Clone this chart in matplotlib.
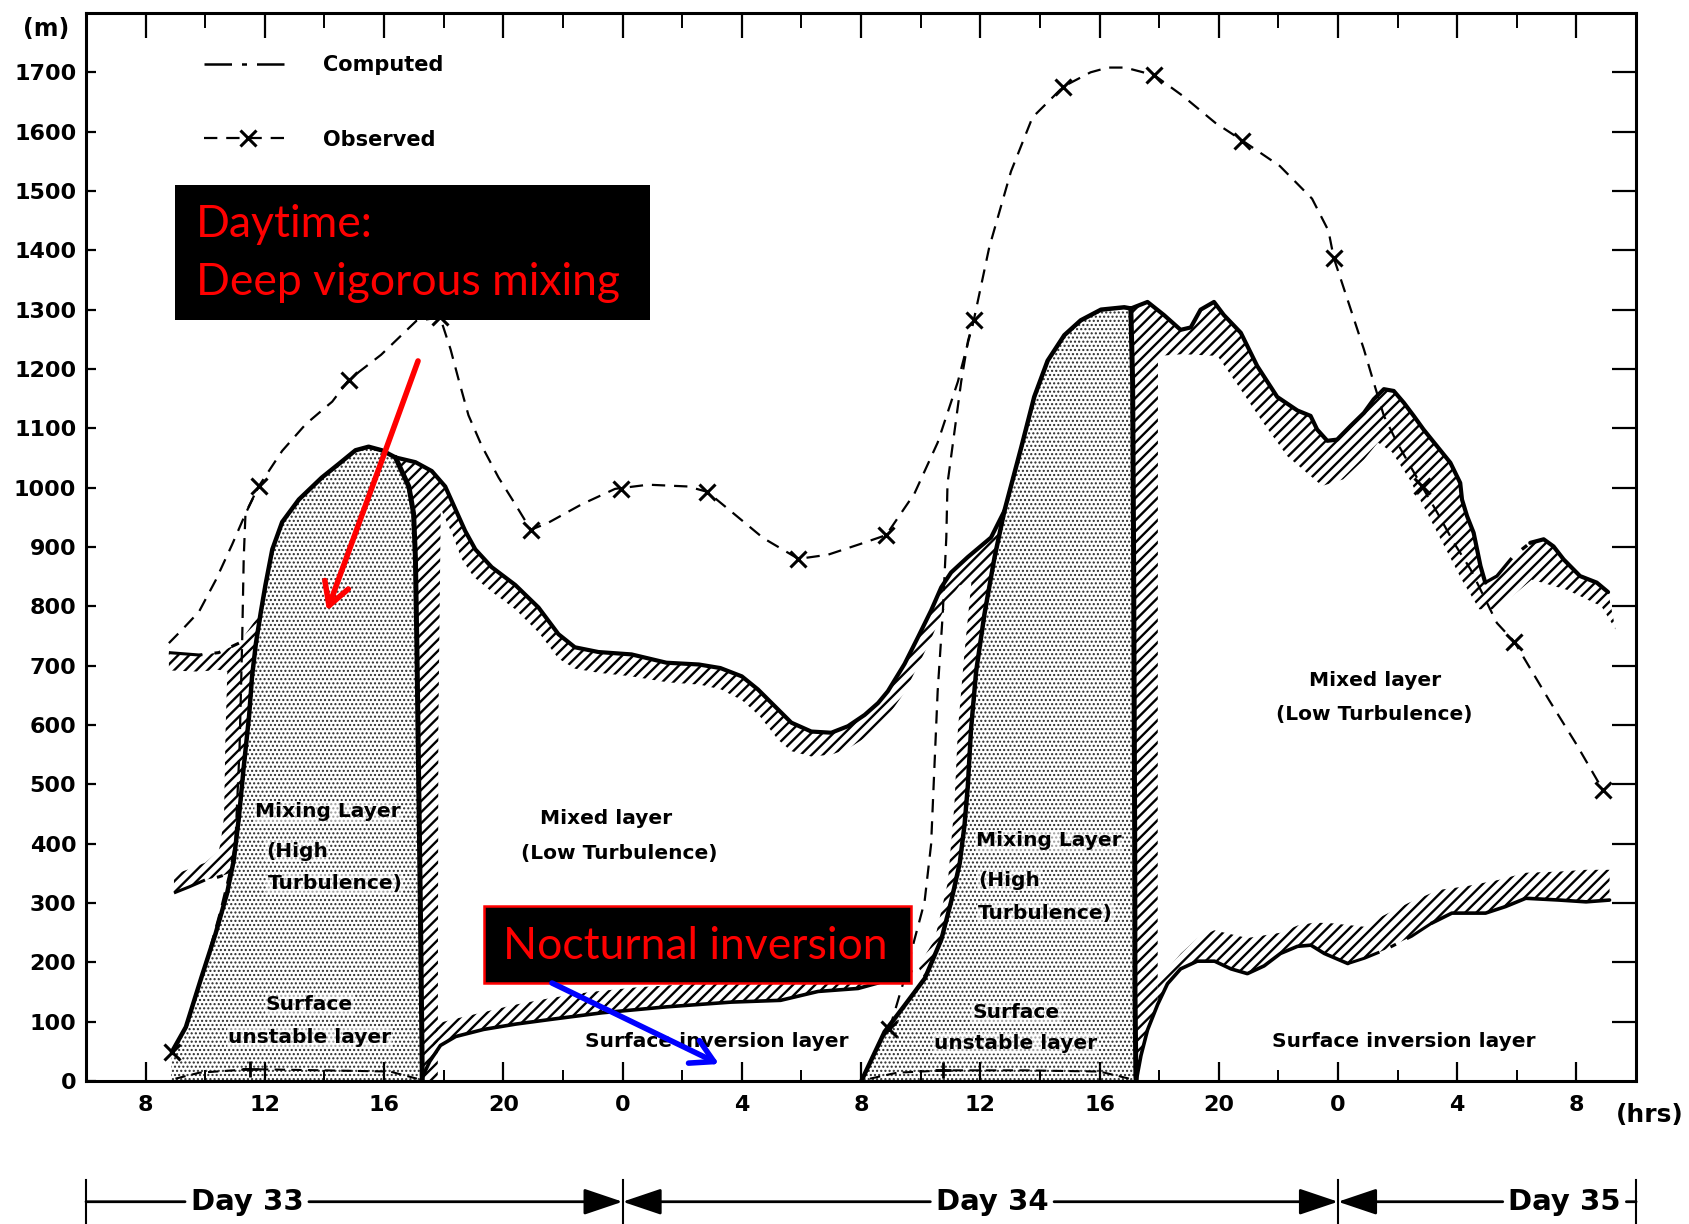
import numpy as np
import matplotlib.pyplot as plt
from matplotlib.lines import Line2D
from matplotlib.patches import Rectangle

plt.rcParams['font.family'] = ['DejaVu Sans']
plt.rcParams['font.weight'] = 'bold'
plt.rcParams['hatch.linewidth'] = 1.7

# time axis: hours counted from 00h of Day 33
hour_ticks = [8, 12, 16, 20, 24, 28, 32, 36, 40, 44, 48, 52, 56]
hour_labels = ['8', '12', '16', '20', '0', '4', '8', '12', '16', '20', '0', '4', '8']
height_ticks = list(range(0, 1800, 100))

day_names = ['Day 33', 'Day 34', 'Day 35']
day_edges = [6, 24, 48, 58]
day_label_t = [11.4, 36.4, 55.6]

# observed mixed-layer top (dashed) and the 3-hourly soundings (x)
obs_line_t = [8.78, 9.23, 9.79, 10.35, 10.9, 11.35, 11.79, 12.58, 13.37, 14.26, 14.82, 15.9, 17.08,
              17.88, 18.23, 18.5, 18.83, 19.28, 19.84, 20.4, 20.92, 21.51, 22.63, 23.75, 24.86, 26.19,
              26.84, 27.64, 28.72, 29.9, 30.89, 31.97, 32.84, 33.79, 34.57, 35.25, 35.78, 36.3, 37.03,
              37.75, 38.79, 39.7, 40.28, 40.86, 41.84, 42.8, 43.88, 44.79, 46.05, 47.13, 47.68, 47.86,
              48.87, 49.2, 49.54, 49.98, 50.43, 50.82, 51.33, 51.89, 52.45, 52.89, 53.33, 53.92, 55.08,
              55.98, 56.88]
obs_line_z = [738, 761, 791, 844, 904, 956, 1002, 1062, 1107, 1145, 1182, 1224, 1281,
              1287, 1233, 1182, 1122, 1070, 1017, 972, 929, 941, 972, 998, 1005, 1002,
              993, 960, 915, 880, 887, 905, 920, 990, 1076, 1179, 1282, 1405, 1533,
              1624, 1676, 1700, 1708, 1708, 1695, 1660, 1615, 1585, 1542, 1487, 1433, 1387,
              1233, 1177, 1121, 1076, 1036, 1002, 958, 907, 862, 817, 772, 740, 642,
              569, 491]
obs_am1_t = [8.88, 9.35, 9.88, 10.18, 10.52, 10.79, 11.01, 11.15, 11.24, 11.29, 11.35, 11.79]
obs_am1_z = [49, 91, 176, 227, 289, 345, 401, 560, 746, 881, 957, 1002]
obs_am2_t = [32.95, 33.46, 33.79, 34.13, 34.35, 34.46, 34.57, 34.74, 34.8, 34.86, 34.9, 35.13,
             35.36, 35.59, 35.78]
obs_am2_z = [87, 173, 238, 302, 399, 528, 657, 787, 851, 916, 1007, 1093, 1179, 1248, 1282]
obs_mark_t = [8.88, 11.79, 14.82, 17.88, 20.92, 23.96, 26.84, 29.9, 32.84, 32.95, 35.78, 38.79,
              41.84, 44.79, 47.86, 50.82, 53.92, 56.88]
obs_mark_z = [49, 1002, 1182, 1287, 929, 998, 993, 880, 920, 87, 1282, 1676,
              1695, 1585, 1387, 1002, 740, 491]

# Day 33 mixing layer
ml1_left_t = [8.85, 8.88, 9.35, 9.88, 10.35, 10.73, 10.96, 11.13, 11.29, 11.47, 11.57, 11.70, 11.86,
              12.02, 12.25, 12.58, 13.14, 13.91, 14.48, 15.04, 15.48, 15.92, 16.38]
ml1_left_z = [0, 49, 91, 176, 249, 316, 373, 445, 529, 615, 682, 738, 789,
              836, 896, 942, 980, 1017, 1040, 1063, 1069, 1063, 1051]
ml1_right_t = [16.38, 16.83, 16.99, 17.05, 17.10, 17.16, 17.22, 17.27, 17.28]
ml1_right_z = [1051, 1002, 956, 882, 731, 505, 278, 53, 0]

# morning of Day 33: remains of the previous night's layers
am_top_t = [8.78, 9.79, 10.45, 11.13]
am_top_z = [722, 718, 722, 738]
am_low_t = [8.95, 9.45, 10.0, 10.45, 10.85]
am_low_z = [317, 327, 339, 344, 351]
am_edge_t = [8.95, 9.5, 10.0, 10.45, 10.51, 10.63, 10.68, 10.74, 10.45, 9.79, 8.78]
am_edge_z = [348, 358, 368, 388, 400, 445, 587, 690, 693, 690, 692]

# first night: top of mixed layer and inner edge of its capping zone
top1_t = [16.38, 17.05, 17.60, 18.05, 18.39, 18.72, 19.06, 19.61, 20.40, 21.18, 21.85, 22.40, 23.19,
          24.30, 25.47, 26.56, 27.28, 28.0, 28.54, 29.22, 29.66, 30.33, 31.0, 31.56, 32.12, 32.57,
          32.9, 33.46, 33.91, 34.35, 34.69, 35.02, 35.58, 36.36, 36.81]
top1_z = [1051, 1043, 1028, 1002, 964, 927, 896, 866, 836, 798, 753, 731, 723,
          719, 705, 702, 696, 682, 660, 626, 604, 589, 587, 598, 617, 637,
          657, 703, 748, 793, 832, 857, 883, 916, 961]
band1_t = [33.91, 34.47, 34.91, 35.13, 35.25, 35.47, 35.7, 35.3, 35.02, 34.69, 34.35, 33.91, 33.46,
           32.9, 32.57, 32.12, 31.56, 31.0, 30.33, 29.66, 29.22, 28.6, 28.0, 27.3, 26.6, 25.5, 24.3,
           23.2, 22.4, 21.85, 21.2, 20.4, 19.6, 19.0, 18.6, 18.3, 17.9, 17.82, 17.8]
band1_z = [193, 238, 335, 464, 593, 722, 840, 835, 815, 785, 745, 700, 655,
           615, 596, 578, 560, 550, 547, 556, 575, 615, 642, 660, 668, 672, 682,
           688, 695, 712, 755, 795, 825, 850, 880, 920, 965, 600, 0]

# first night: surface inversion
inv1_t = [17.24, 17.53, 17.89, 18.40, 19.34, 20.42, 21.61, 23.31, 25.47, 27.64, 29.30, 30.56, 31.90,
          32.55, 33.13, 33.67]
inv1_z = [2, 33, 60, 75, 87, 96, 104, 115, 125, 133, 136, 151, 156, 165, 175, 185]
inv1_top_t = [17.77, 18.4, 19.5, 20.33, 21.6, 22.9, 24.5, 26.74, 28.5, 30.59, 31.9, 32.6, 33.67]
inv1_top_z = [97, 105, 118, 128, 140, 150, 158, 165, 170, 180, 186, 192, 200]

# Day 34 mixing layer
ml2_left_t = [32.01, 32.79, 33.47, 34.14, 34.69, 35.02, 35.31, 35.47, 35.58, 35.69, 35.86, 36.14, 36.48,
              36.81, 37.37, 37.81, 38.26, 38.82, 39.37, 40.05, 40.83, 41.05]
ml2_left_z = [0, 83, 128, 173, 238, 302, 367, 431, 496, 593, 690, 787, 883,
              961, 1067, 1153, 1214, 1257, 1282, 1300, 1304, 1302]
ml2_right_t = [41.05, 41.11, 41.14, 41.16, 41.18, 41.19, 41.22, 41.23]
ml2_right_z = [1302, 1179, 921, 663, 405, 146, 9, 0]

# second night: top of mixed layer and inner edge of its capping zone
top2_t = [41.05, 41.61, 42.16, 42.72, 43.06, 43.39, 43.84, 44.17, 44.74, 45.29, 45.96, 46.64, 47.08,
          47.30, 47.64, 47.97, 48.42, 48.87, 49.20, 49.54, 49.87, 50.21, 50.54, 50.87, 51.32, 51.77,
          52.10, 52.16, 52.33, 52.55, 52.78, 52.94, 53.33, 53.89, 54.45, 54.90, 55.23, 55.57, 56.12,
          56.68, 57.06]
top2_z = [1302, 1313, 1291, 1266, 1270, 1300, 1313, 1291, 1261, 1205, 1153, 1130, 1121,
          1098, 1079, 1081, 1104, 1126, 1149, 1166, 1163, 1143, 1121, 1098, 1070, 1042,
          1008, 980, 952, 924, 868, 840, 851, 885, 907, 913, 901, 879, 851,
          840, 824]
top2_in_t = [41.96, 42.79, 43.96, 44.66, 45.48, 46.3, 47.47, 48.17, 48.88, 49.34, 49.81, 50.4, 50.98,
             51.57, 52.15, 52.74, 53.33, 54.5, 55.67, 56.84, 57.31]
top2_in_z = [1222, 1225, 1222, 1171, 1110, 1053, 1003, 1014, 1048, 1076, 1060, 1014, 958,
             901, 845, 795, 795, 845, 828, 800, 761]

# second night: surface inversion
inv2_t = [41.23, 41.39, 41.61, 41.95, 42.28, 42.72, 43.28, 43.86, 44.41, 44.96, 45.52, 46.07, 46.64,
          47.09, 47.54, 48.33, 48.89, 49.57, 50.47, 51.14, 51.82, 52.95, 53.62, 54.3, 55.42, 56.32,
          57.11]
inv2_z = [0, 43, 86, 129, 164, 189, 202, 202, 189, 181, 194, 215, 227,
          229, 215, 198, 207, 221, 244, 266, 283, 283, 294, 308, 305, 302, 305]
inv2_top_t = [41.95, 42.73, 43.29, 43.85, 44.96, 46.08, 46.64, 47.2, 47.76, 48.89, 49.45, 50.36, 51.37,
              52.27, 53.39, 54.29, 55.42, 56.32, 57.11]
inv2_top_z = [170, 215, 241, 254, 241, 250, 262, 267, 266, 260, 277, 300, 322,
              328, 339, 351, 353, 356, 356]

# top of the surface unstable layer
sul1_t = [9.0, 9.8, 11.5, 14.0, 16.2, 17.1]
sul1_z = [4, 14, 20, 18, 16, 4]
sul2_t = [32.3, 33.2, 34.8, 37.5, 40.0, 41.0]
sul2_z = [4, 14, 18, 18, 16, 4]
sul_mark_t = [11.5, 34.75]
sul_mark_z = [20, 18]

dashdot = (0, (11, 4, 2, 4))
dashed = (0, (6, 4))

fig = plt.figure(figsize=(16.9, 12.24), dpi=100)
ax = fig.add_axes([0.0509, 0.1168, 0.9172, 0.8726])
ax.set_xlim(6, 58)
ax.set_ylim(0, 1800)


def cat(*parts):
    return np.concatenate([np.asarray(p, dtype=float) for p in parts])


def hatch_fill(t, z):
    ax.fill(t, z, facecolor='none', edgecolor='black', hatch='///', linewidth=0, zorder=1)


def stipple_fill(t, z):
    with plt.rc_context({'hatch.linewidth': 1.0}):
        for p in ax.fill(t, z, facecolor='white', edgecolor='#2a2a2a', hatch='....',
                         linewidth=0, zorder=1):
            if hasattr(p, 'set_hatch_linewidth'):
                p.set_hatch_linewidth(1.0)


ml1_lt, ml1_lz = np.array(ml1_left_t), np.array(ml1_left_z)
ml2_lt, ml2_lz = np.array(ml2_left_t), np.array(ml2_left_z)

# stippled mixing layers
stipple_fill(cat(ml1_left_t, ml1_right_t[1:]), cat(ml1_left_z, ml1_right_z[1:]))
stipple_fill(cat(ml2_left_t, ml2_right_t[1:]), cat(ml2_left_z, ml2_right_z[1:]))

# hatched transition zones
sel = (ml1_lz > 340) & (ml1_lz < 800)
hatch_fill(cat(am_top_t, ml1_lt[sel][::-1], am_low_t[::-1], am_edge_t),
           cat(am_top_z, ml1_lz[sel][::-1], am_low_z[::-1], am_edge_z))

sel = (ml2_lz >= 170) & (ml2_lz <= 961)
hatch_fill(cat(ml1_right_t[::-1], top1_t[1:], ml2_lt[sel][::-1], band1_t),
           cat(ml1_right_z[::-1], top1_z[1:], ml2_lz[sel][::-1], band1_z))
hatch_fill(cat(inv1_t[1:], inv1_top_t[::-1]), cat(inv1_z[1:], inv1_top_z[::-1]))

hatch_fill(cat(ml2_right_t, inv2_t[1:4], top2_in_t, top2_t[::-1]),
           cat(ml2_right_z, inv2_z[1:4], top2_in_z, top2_z[::-1]))
hatch_fill(cat(inv2_t[3:], inv2_top_t[::-1]), cat(inv2_z[3:], inv2_top_z[::-1]))

# boundary lines
solid = dict(color='black', solid_capstyle='round', solid_joinstyle='round', zorder=3)
ax.plot(ml1_left_t[1:], ml1_left_z[1:], lw=3.2, **solid)
ax.plot(ml1_right_t, ml1_right_z, lw=3.6, **solid)
ax.plot(top1_t, top1_z, lw=3.0, **solid)
ax.plot(ml2_left_t, ml2_left_z, lw=3.2, **solid)
ax.plot(ml2_right_t, ml2_right_z, lw=3.6, **solid)
ax.plot(top2_t[:32], top2_z[:32], lw=3.0, **solid)
ax.plot(top2_t[34:], top2_z[34:], lw=3.0, **solid)
ax.plot(top2_t[31:35], top2_z[31:35], lw=2.4, ls=dashdot, color='black', zorder=3)
ax.plot(inv1_t, inv1_z, lw=2.6, **solid)
ax.plot(inv2_t[:16], inv2_z[:16], lw=2.6, **solid)
ax.plot(inv2_t[19:], inv2_z[19:], lw=2.6, **solid)
ax.plot(inv2_t[15:20], inv2_z[15:20], lw=2.2, ls=dashdot, color='black', zorder=3)
ax.plot(am_top_t, am_top_z, lw=2.2, ls=dashdot, color='black', zorder=3)
ax.plot(am_low_t, am_low_z, lw=2.2, ls=dashdot, color='black', zorder=3)

ax.plot(sul1_t, sul1_z, lw=1.5, ls=(0, (5, 3)), color='black', zorder=3)
ax.plot(sul2_t, sul2_z, lw=1.5, ls=(0, (5, 3)), color='black', zorder=3)
ax.plot(sul_mark_t, sul_mark_z, ls='none', marker='+', ms=11, mew=2, color='black', zorder=3)

# observations
ax.plot(obs_line_t, obs_line_z, ls=dashed, lw=1.6, color='black', zorder=4)
ax.plot(obs_am1_t, obs_am1_z, ls=dashed, lw=1.6, color='black', zorder=4)
ax.plot(obs_am2_t, obs_am2_z, ls=dashed, lw=1.6, color='black', zorder=4)
ax.plot(obs_mark_t, obs_mark_z, ls='none', marker='x', ms=12, mew=2.2, color='black', zorder=4)

# region labels
lab = dict(fontsize=14.5, fontweight='bold', zorder=5)
soft = dict(boxstyle='square,pad=0.05', facecolor='white', edgecolor='none', alpha=0.55)
ax.text(14.1, 455, 'Mixing Layer', ha='center', va='center', bbox=soft, **lab)
ax.text(12.04, 387, '(High', ha='left', va='center', bbox=soft, **lab)
ax.text(14.35, 333, 'Turbulence)', ha='center', va='center', bbox=soft, **lab)
ax.text(13.49, 129, 'Surface', ha='center', va='center', bbox=soft, **lab)
ax.text(13.49, 73, 'unstable layer', ha='center', va='center', bbox=soft, **lab)
ax.text(38.29, 405, 'Mixing Layer', ha='center', va='center', bbox=soft, **lab)
ax.text(35.94, 338, '(High', ha='left', va='center', bbox=soft, **lab)
ax.text(38.18, 282, 'Turbulence)', ha='center', va='center', bbox=soft, **lab)
ax.text(37.2, 115, 'Surface', ha='center', va='center', bbox=soft, **lab)
ax.text(37.2, 64, 'unstable layer', ha='center', va='center', bbox=soft, **lab)
ax.text(23.45, 442, 'Mixed layer', ha='center', va='center', **lab)
ax.text(23.88, 384, '(Low Turbulence)', ha='center', va='center', **lab)
ax.text(49.26, 675, 'Mixed layer', ha='center', va='center', **lab)
ax.text(49.23, 618, '(Low Turbulence)', ha='center', va='center', **lab)
ax.text(27.17, 67, 'Surface inversion layer', ha='center', va='center', **lab)
ax.text(50.2, 67, 'Surface inversion layer', ha='center', va='center', **lab)

# axes, ticks
for s in ax.spines.values():
    s.set_linewidth(2.2)
ax.set_xticks(hour_ticks)
ax.set_xticklabels(hour_labels)
ax.set_xticks(np.arange(10, 58, 4), minor=True)
ax.set_yticks(height_ticks)
ax.tick_params(axis='x', which='major', direction='in', length=14, width=1.6, labelsize=16, pad=10)
ax.tick_params(axis='x', which='minor', direction='in', length=8, width=1.4)
ax.tick_params(axis='y', which='major', direction='in', length=7, width=1.6, labelsize=16, pad=7)

top = ax.secondary_xaxis('top')
top.set_xticks(hour_ticks)
top.set_xticks(np.arange(10, 58, 4), minor=True)
top.tick_params(which='major', direction='in', length=18, width=1.6, labeltop=False)
top.tick_params(which='minor', direction='in', length=11, width=1.4)
right = ax.secondary_yaxis('right')
right.set_yticks(height_ticks[1:])
right.tick_params(direction='in', length=17, width=1.6, labelright=False)

ax.text(-0.026, 0.985, '(m)', transform=ax.transAxes, ha='center', va='center', fontsize=17)
ax.text(1.009, -0.032, '(hrs)', transform=ax.transAxes, ha='center', va='center', fontsize=18)

# legend
handles = [Line2D([], [], ls=dashdot, lw=1.8, color='black'),
           Line2D([], [], ls=dashed, lw=1.6, color='black', marker='x', ms=12, mew=2.2)]
ax.legend(handles, ['Computed', 'Observed'], loc='upper left', bbox_to_anchor=(0.071, 0.968),
          frameon=False, fontsize=15, handlelength=4.2, handletextpad=1.5, labelspacing=2.6,
          borderaxespad=0)

# day bar under the time axis
tr = ax.get_xaxis_transform()
day_y = -0.113
for i, name in enumerate(day_names):
    t0, t1, tl = day_edges[i], day_edges[i + 1], day_label_t[i]
    left_style = '-' if i == 0 else '-|>,head_length=0.8,head_width=0.27'
    right_style = '-' if i == len(day_names) - 1 else '-|>,head_length=0.8,head_width=0.27'
    ax.annotate(name, xy=(t1, day_y), xytext=(tl, day_y), xycoords=tr, textcoords=tr,
                ha='center', va='center', fontsize=21, annotation_clip=False,
                arrowprops=dict(arrowstyle=right_style, color='black', lw=2, mutation_scale=30,
                                shrinkA=2, shrinkB=0))
    ax.annotate(name, xy=(t0, day_y), xytext=(tl, day_y), xycoords=tr, textcoords=tr,
                ha='center', va='center', fontsize=21, color='none', annotation_clip=False,
                arrowprops=dict(arrowstyle=left_style, color='black', lw=2, mutation_scale=30,
                                shrinkA=2, shrinkB=0))
for t in day_edges:
    ax.plot([t, t], [day_y - 0.02, day_y + 0.02], transform=tr, color='black', lw=1.5, clip_on=False)

# call-outs
ax.add_patch(Rectangle((0.0572, 0.7125), 0.3067, 0.1261, transform=ax.transAxes,
                       facecolor='black', edgecolor='none', zorder=10))
callout = dict(color='#ff0000', fontsize=32, fontweight='normal', family=['Lato', 'DejaVu Sans'],
               transform=ax.transAxes, zorder=11)
ax.text(0.071, 0.8024, 'Daytime:', ha='left', va='center', **callout)
ax.text(0.071, 0.7478, 'Deep vigorous mixing', ha='left', va='center', **callout)
ax.add_patch(Rectangle((0.2568, 0.0918), 0.2752, 0.0717, transform=ax.transAxes,
                       facecolor='black', edgecolor='#ff0000', linewidth=1.8, zorder=10))
ax.text(0.393, 0.1264, 'Nocturnal inversion', ha='center', va='center', **callout)

ax.annotate('', xy=(0.1555, 0.4401), xytext=(0.2142, 0.6742), xycoords='axes fraction',
            arrowprops=dict(arrowstyle='->,head_length=0.8,head_width=0.45', color='#ff0000',
                            lw=4, mutation_scale=20, shrinkA=0, shrinkB=0), zorder=12)
ax.annotate('', xy=(0.4084, 0.0159), xytext=(0.3006, 0.0918), xycoords='axes fraction',
            arrowprops=dict(arrowstyle='->,head_length=0.8,head_width=0.45', color='#0000ff',
                            lw=4, mutation_scale=20, shrinkA=0, shrinkB=0), zorder=12)

fig.savefig('out.png', dpi=100, facecolor='white')
